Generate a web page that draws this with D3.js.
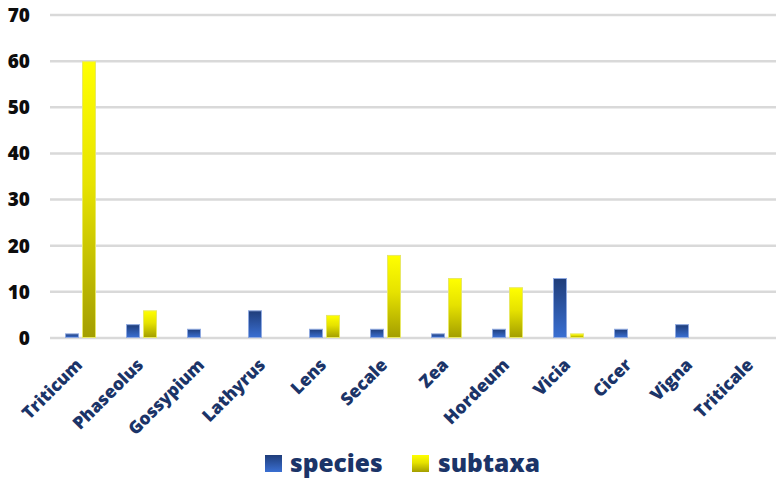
<!DOCTYPE html>
<html>
<head>
<meta charset="utf-8">
<script src="https://cdn.jsdelivr.net/npm/d3@7"></script>
<style>
  html, body { margin: 0; padding: 0; background: #fff; }
  svg { display: block; }
</style>
</head>
<body>
<svg id="chart" width="776" height="479"></svg>
<script>
// Genera and their counts of species and subtaxa
const categories = ["Triticum", "Phaseolus", "Gossypium", "Lathyrus", "Lens", "Secale",
                    "Zea", "Hordeum", "Vicia", "Cicer", "Vigna", "Triticale"];
const speciesValues = [1, 3, 2, 6, 2, 2, 1, 2, 13, 2, 3, 0];
const subtaxaValues = [60, 6, 0, 0, 5, 18, 13, 11, 1, 0, 0, 0];
const seriesNames = ["species", "subtaxa"];
const yTicks = [0, 10, 20, 30, 40, 50, 60, 70];

const svg = d3.select("#chart");
const W = 776;

const x0 = d3.scaleBand().domain(categories).range([50, 782]).paddingInner(0).paddingOuter(0);
const x1 = d3.scaleBand().domain(seriesNames).range([15, 46]).paddingInner(3 / 17).paddingOuter(0);
const y = d3.scaleLinear().domain([0, 70]).range([338, 15]);

// Gradients
const defs = svg.append("defs");
const gBlue = defs.append("linearGradient").attr("id", "gradSpecies")
  .attr("x1", 0).attr("y1", 0).attr("x2", 0).attr("y2", 1);
gBlue.append("stop").attr("offset", "0%").attr("stop-color", "#1f3d7a");
gBlue.append("stop").attr("offset", "100%").attr("stop-color", "#3a6fd2");
const gYel = defs.append("linearGradient").attr("id", "gradSubtaxa")
  .attr("x1", 0).attr("y1", 0).attr("x2", 0).attr("y2", 1);
gYel.append("stop").attr("offset", "0%").attr("stop-color", "#ffff00");
gYel.append("stop").attr("offset", "45%").attr("stop-color", "#e6e200");
gYel.append("stop").attr("offset", "100%").attr("stop-color", "#a39e00");

const fills = { species: "url(#gradSpecies)", subtaxa: "url(#gradSubtaxa)" };
const strokes = { species: "#8fa9e0", subtaxa: "#e8e866" };

// Gridlines
svg.append("g").selectAll("line").data(yTicks).join("line")
  .attr("x1", 50).attr("x2", W)
  .attr("y1", d => y(d)).attr("y2", d => y(d))
  .attr("stroke", "#d9d9d9").attr("stroke-width", 2.5);

// Y axis labels
svg.append("g").selectAll("text").data(yTicks).join("text")
  .attr("x", 30).attr("y", d => y(d))
  .attr("dy", "0.36em")
  .attr("text-anchor", "end")
  .attr("font-family", "'Open Sans', sans-serif")
  .attr("font-weight", 800).attr("font-size", 19)
  .attr("fill", "#0d0d0d")
  .text(d => d);

// Bars
const rows = categories.map((c, i) => ({ cat: c, species: speciesValues[i], subtaxa: subtaxaValues[i] }));
const groups = svg.append("g").selectAll("g").data(rows).join("g")
  .attr("transform", d => `translate(${x0(d.cat)},0)`);
groups.selectAll("rect")
  .data(d => seriesNames.map(k => ({ key: k, value: d[k] })).filter(e => e.value > 0))
  .join("rect")
  .attr("x", d => x1(d.key) + 0.5)
  .attr("width", x1.bandwidth() - 1)
  .attr("y", d => y(d.value) + 0.5)
  .attr("height", d => y(0) - y(d.value) - 1)
  .attr("fill", d => fills[d.key])
  .attr("stroke", d => strokes[d.key])
  .attr("stroke-width", 1);

// Category labels
svg.append("g").selectAll("text").data(categories).join("text")
  .attr("transform", d => `translate(${x0(d) + x0.bandwidth() / 2 + 3},366) rotate(-45)`)
  .attr("text-anchor", "end")
  .attr("font-family", "'Open Sans', sans-serif")
  .attr("font-weight", 800).attr("font-size", 17.5)
  .attr("fill", "#1b3468")
  .text(d => d);

// Legend
const legendItems = [
  { key: "species", sx: 265, tx: 290 },
  { key: "subtaxa", sx: 412, tx: 438 }
];
const lg = svg.append("g");
lg.selectAll("rect").data(legendItems).join("rect")
  .attr("x", d => d.sx).attr("y", 455).attr("width", 17).attr("height", 17)
  .attr("fill", d => fills[d.key]);
lg.selectAll("text").data(legendItems).join("text")
  .attr("x", d => d.tx).attr("y", 472)
  .attr("font-family", "'Open Sans', sans-serif")
  .attr("font-weight", 800).attr("font-size", 24.5)
  .attr("fill", "#1b3468")
  .text(d => d.key);
</script>
</body>
</html>
